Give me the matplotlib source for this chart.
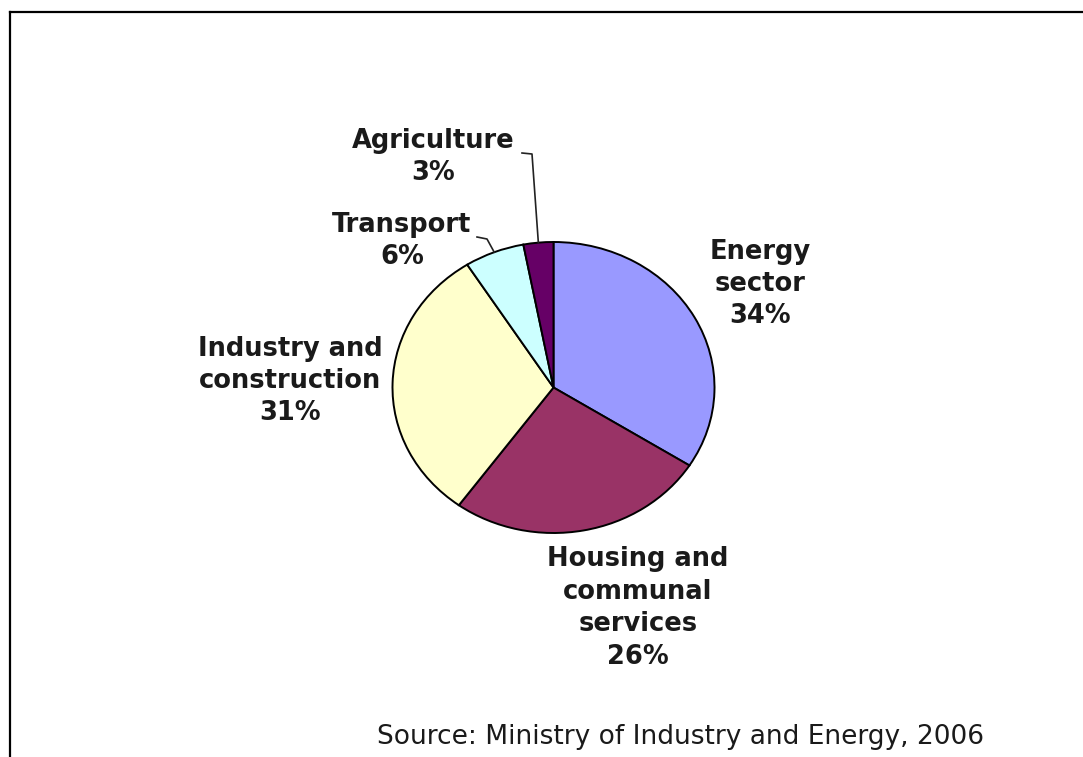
import matplotlib
matplotlib.use("Agg")
import matplotlib.pyplot as plt
from matplotlib.lines import Line2D
import numpy as np

# Emissions share by sector
sectors = ["Energy\nsector", "Housing and\ncommunal\nservices", "Industry and\nconstruction",
           "Transport", "Agriculture"]
shares = [34, 26, 31, 6, 3]
colors = ["#9999FF", "#993366", "#FFFFCC", "#CCFFFF", "#660066"]
source_note = "Source: Ministry of Industry and Energy, 2006"

W, H = 1083, 757
fig = plt.figure(figsize=(W / 100, H / 100), dpi=100)
fig.patch.set_facecolor("white")

# pie geometry in pixels (slightly flattened ellipse)
cx, cy, rx, ry = 553.5, 387.5, 161.0, 145.5

ax = fig.add_axes([0, 0, 1, 1])
ax.pie(shares, colors=colors, startangle=90, counterclock=False,
       wedgeprops=dict(edgecolor="black", linewidth=1.4))
ax.set_aspect("auto")
ax.set_xlim((0 - cx) / rx, (W - cx) / rx)
ax.set_ylim((cy - H) / ry, (cy - 0) / ry)
ax.axis("off")


def px(x, y):
    """Pixel position (origin top-left) to data coordinates."""
    return (x - cx) / rx, (cy - y) / ry


label_font = dict(family="DejaVu Sans", weight="bold", size=18.5, color="#1a1a1a",
                  ha="center", va="center", linespacing=1.32)

# label block centres in pixels
label_pos = {
    0: (760, 284),
    1: (638, 608),
    2: (290, 381),
    3: (402, 241),
    4: (433, 157),
}
for i, (name, val) in enumerate(zip(sectors, shares)):
    x, y = px(*label_pos[i])
    ax.text(x, y, f"{name}\n{val}%", **label_font)

# leader lines for the two thin slices
total = float(sum(shares))
start = 90.0
mids = []
for v in shares:
    sweep = 360.0 * v / total
    mids.append(start - sweep / 2)
    start -= sweep


def edge_point(idx):
    a = np.deg2rad(mids[idx])
    return np.cos(a), np.sin(a)


# Agriculture
ex, ey = edge_point(4)
p1 = px(522, 153)
p2 = px(532, 154)
ax.add_line(Line2D([p1[0], p2[0], ex], [p1[1], p2[1], ey], color="#222222", lw=1.2))
# Transport
ex, ey = edge_point(3)
p1 = px(477, 237)
p2 = px(487, 239)
ax.add_line(Line2D([p1[0], p2[0], ex], [p1[1], p2[1], ey], color="#222222", lw=1.2))

# frame on top and left
fig.add_artist(Line2D([10 / W, 1.0], [1 - 12 / H, 1 - 12 / H], color="black", lw=1.6,
                      transform=fig.transFigure))
fig.add_artist(Line2D([10 / W, 10 / W], [1 - 12 / H, 0.0], color="black", lw=1.6,
                      transform=fig.transFigure))

fig.text(377 / W, 1 - 737 / H, source_note, ha="left", va="center",
         fontsize=19, family="DejaVu Sans", color="#1a1a1a")

fig.savefig("out.png", dpi=100, facecolor="white")
